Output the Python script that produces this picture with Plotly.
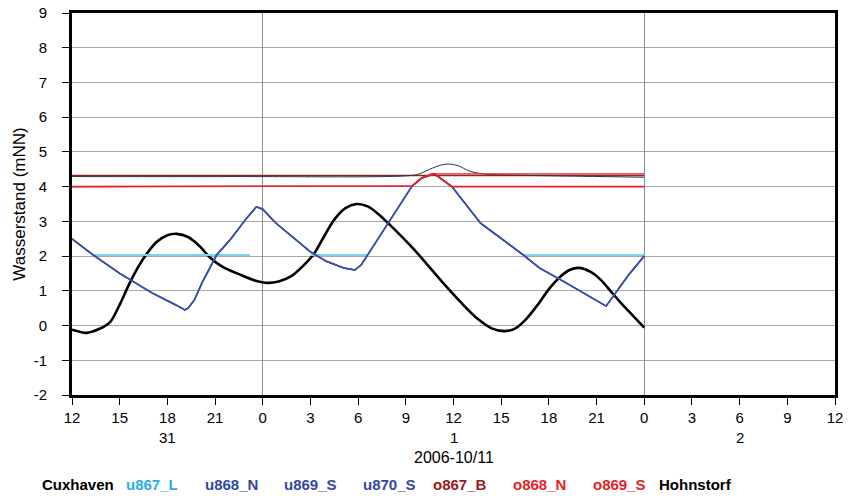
import plotly.graph_objects as go

# hours since 2006-10-31 12:00
cux_h = [0, 0.9, 1.7, 2.4, 3.0, 3.5, 4.0, 4.6, 5.3, 6.0, 6.6, 7.3, 8.0, 8.7, 9.5, 10.5, 11.5, 12.3, 13.0, 13.8, 14.5, 15.2, 15.9, 16.5, 17.2, 17.9, 18.6, 19.3, 20.0, 21.5, 23.3, 24.5, 25.5, 26.4, 27.2, 27.9, 28.6, 29.3, 30.0, 30.7, 31.3, 31.9, 32.6, 33.3, 33.9, 34.6, 35.3, 36.0]
cux_v = [-0.12, -0.21, -0.1, 0.1, 0.6, 1.1, 1.55, 2.0, 2.4, 2.6, 2.64, 2.55, 2.3, 1.95, 1.68, 1.48, 1.3, 1.23, 1.27, 1.42, 1.7, 2.05, 2.6, 3.05, 3.38, 3.5, 3.43, 3.2, 2.9, 2.2, 1.25, 0.65, 0.2, -0.08, -0.16, -0.08, 0.2, 0.6, 1.05, 1.4, 1.6, 1.66, 1.55, 1.3, 0.98, 0.62, 0.28, -0.06]

u_h = [0, 1.3, 3.0, 5.0, 6.5, 7.1, 7.3, 7.7, 8.2, 9.1, 10.0, 11.0, 11.6, 12.0, 12.8, 14.0, 15.0, 16.0, 17.1, 17.8, 18.2, 18.55, 19.8, 21.4, 22.0, 22.8, 23.9, 25.7, 28.4, 29.4, 31.0, 33.0, 33.6, 34.2, 35.0, 36.0]
u868_v = [2.5, 2.04, 1.5, 0.95, 0.6, 0.45, 0.5, 0.74, 1.25, 2.03, 2.5, 3.1, 3.42, 3.35, 2.96, 2.5, 2.12, 1.85, 1.66, 1.6, 1.75, 2.0, 2.9, 4.02, 4.25, 4.37, 4.0, 2.95, 2.03, 1.66, 1.25, 0.7, 0.56, 0.94, 1.45, 2.0]
u869_v = list(u868_v)
u870_v = list(u868_v)

u867_h = [1.3, 11.2, None, 15.0, 18.55, None, 28.4, 36.0]
u867_v = [2.03, 2.03, None, 2.03, 2.03, None, 2.03, 2.03]

o867_h = [0, 36]
o867_v = [4.32, 4.32]

o868_h = [0, 21.4, 22.0, 22.6, 36]
o868_v = [4.0, 4.02, 4.25, 4.37, 4.37]

o869_h = [0, 21.4, 22.0, 22.8, 23.9, 36]
o869_v = [4.0, 4.02, 4.25, 4.37, 4.0, 4.0]

hohn_h = [0, 10, 21.0, 21.8, 22.5, 23.2, 23.7, 24.3, 25.0, 26.0, 28.0, 32.0, 36.0]
hohn_v = [4.29, 4.29, 4.31, 4.36, 4.5, 4.62, 4.65, 4.6, 4.45, 4.36, 4.33, 4.3, 4.27]

hour_ticks = list(range(0, 49, 3))
hour_labels = ["12", "15", "18", "21", "0", "3", "6", "9", "12", "15", "18", "21", "0", "3", "6", "9", "12"]
day_pos = [6, 24, 42]
day_labels = ["31", "1", "2"]
y_ticks = list(range(-2, 10))
y_labels = [str(v) for v in y_ticks]

names = ["Cuxhaven", "u867_L", "u868_N", "u869_S", "u870_S", "o867_B", "o868_N", "o869_S", "Hohnstorf"]
text_colors = ["#000000", "#29aee0", "#34479c", "#34479c", "#34479c", "#9b1b1e", "#e8202a", "#e8202a", "#000000"]
legend_x = [78, 152, 231, 310, 389, 460, 539, 619, 695]

BLUE = "#3d4fa8"
fig = go.Figure()
fig.add_trace(go.Scatter(x=cux_h, y=cux_v, mode="lines", line=dict(color="black", width=2.6, shape="spline", smoothing=0.8), name="Cuxhaven"))
fig.add_trace(go.Scatter(x=u867_h, y=u867_v, mode="lines", line=dict(color="#7fd3ea", width=2), name="u867_L", connectgaps=False))
fig.add_trace(go.Scatter(x=u_h, y=u868_v, mode="lines", line=dict(color=BLUE, width=1.5), name="u868_N"))
fig.add_trace(go.Scatter(x=u_h, y=u869_v, mode="lines", line=dict(color=BLUE, width=1.5), name="u869_S"))
fig.add_trace(go.Scatter(x=u_h, y=u870_v, mode="lines", line=dict(color=BLUE, width=1.5), name="u870_S"))
fig.add_trace(go.Scatter(x=o867_h, y=o867_v, mode="lines", line=dict(color="#8a2a2a", width=1.3), name="o867_B"))
fig.add_trace(go.Scatter(x=hohn_h, y=hohn_v, mode="lines", line=dict(color="#333333", width=1, shape="spline"), name="Hohnstorf"))
fig.add_trace(go.Scatter(x=o868_h, y=o868_v, mode="lines", line=dict(color="#e8202a", width=1.2), name="o868_N"))
fig.add_trace(go.Scatter(x=o869_h, y=o869_v, mode="lines", line=dict(color="#e8202a", width=1.6), name="o869_S"))

# invisible trace to activate xaxis2 for midnight grid lines
fig.add_trace(go.Scatter(x=[0], y=[0], xaxis="x2", mode="markers", marker=dict(opacity=0), showlegend=False, hoverinfo="skip"))

font = "Liberation Sans, Arial, sans-serif"
fig.update_layout(
    width=848, height=496,
    margin=dict(l=72, r=13, t=13, b=101, autoexpand=False),
    paper_bgcolor="white", plot_bgcolor="white",
    showlegend=False,
    font=dict(family=font, size=15, color="black"),
    xaxis=dict(range=[0, 48], tickvals=hour_ticks, ticktext=hour_labels, showgrid=False, zeroline=False,
               ticks="outside", ticklen=7, tickwidth=1, tickcolor="black", automargin=False,
               showline=True, linewidth=3, linecolor="black", mirror=True,
               tickfont=dict(size=15, family=font)),
    xaxis2=dict(range=[0, 48], overlaying="x", tickvals=[12, 36], showgrid=True, gridcolor="#8c8c8c", gridwidth=1,
                showticklabels=False, ticks="", zeroline=False, showline=False, layer="below traces", automargin=False),
    yaxis=dict(range=[-2, 9], tickvals=y_ticks, ticktext=y_labels, showgrid=True, gridcolor="#a8a8a8", gridwidth=1, zeroline=False,
               ticks="outside", ticklen=7, tickwidth=1, tickcolor="black", ticklabelstandoff=12, automargin=False,
               showline=True, linewidth=3, linecolor="black", mirror=True,
               title=dict(text="Wasserstand (mNN)", font=dict(size=17, family=font), standoff=4),
               tickfont=dict(size=15, family=font)),
)

annotations = []
for p, lab in zip(day_pos, day_labels):
    annotations.append(dict(x=p, y=0, xref="x", yref="paper", yshift=-42, text=lab, showarrow=False,
                            font=dict(size=15, family=font), xanchor="center", yanchor="middle"))
annotations.append(dict(x=24, y=0, xref="x", yref="paper", yshift=-62, text="2006-10/11", showarrow=False,
                        font=dict(size=16, family=font), xanchor="center", yanchor="middle"))
for n, c, px in zip(names, text_colors, legend_x):
    annotations.append(dict(x=(px - 72) / 763, y=0, xref="paper", yref="paper", yshift=-89, text="<b>" + n + "</b>",
                            showarrow=False, font=dict(size=15, family=font, color=c),
                            xanchor="center", yanchor="middle"))
fig.update_layout(annotations=annotations)

fig.write_html("out.html")
